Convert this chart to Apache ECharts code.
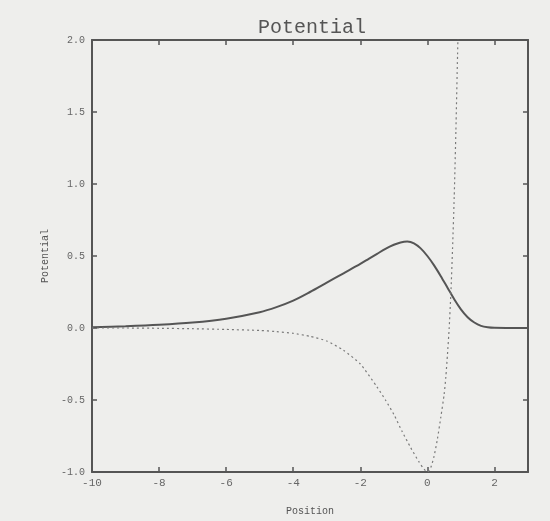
<!DOCTYPE html>
<html>
<head>
<meta charset="utf-8">
<script src="https://cdn.jsdelivr.net/npm/echarts@6/dist/echarts.min.js"></script>
<style>
html,body{margin:0;padding:0;background:#eeeeec;}
#chart{width:550px;height:521px;}
</style>
</head>
<body>
<div id="chart"></div>
<script>
// Data
var titleText = "Potential";
var xName = "Position";
var yName = "Potential";

var solidX = [-10, -9, -8, -7, -6, -5, -4.5, -4, -3.5, -3, -2.5, -2, -1.75, -1.5, -1.25, -1, -0.8, -0.6, -0.4, -0.2, 0, 0.2, 0.4, 0.6, 0.8, 1.0, 1.2, 1.4, 1.6, 1.8, 2.0, 2.5, 3];
var solidY = [0.005, 0.012, 0.022, 0.038, 0.065, 0.11, 0.145, 0.19, 0.25, 0.315, 0.38, 0.445, 0.48, 0.515, 0.55, 0.578, 0.594, 0.6, 0.588, 0.553, 0.5, 0.435, 0.36, 0.28, 0.2, 0.13, 0.075, 0.038, 0.015, 0.005, 0.001, 0, 0];

var dotX = [-10, -9, -8, -7, -6, -5, -4.5, -4, -3.5, -3, -2.5, -2, -1.5, -1.25, -1, -0.75, -0.5, -0.25, -0.1, 0, 0.1, 0.2, 0.3, 0.4, 0.5, 0.55, 0.6, 0.65, 0.7, 0.75, 0.8, 0.85, 0.9, 0.93];
var dotY = [0, 0, -0.002, -0.005, -0.01, -0.017, -0.025, -0.037, -0.058, -0.09, -0.155, -0.25, -0.41, -0.5, -0.6, -0.72, -0.83, -0.93, -0.98, -1.0, -0.97, -0.89, -0.77, -0.62, -0.46, -0.34, -0.18, 0.0, 0.24, 0.55, 0.91, 1.37, 1.9, 2.2];

var xTickMin = -10, xTickMax = 3, xTickStep = 2;
var yTickMin = -1.0, yTickMax = 2.0, yTickStep = 0.5;

function pairs(xs, ys) {
  var out = [];
  for (var i = 0; i < xs.length; i++) out.push([xs[i], ys[i]]);
  return out;
}

var axisCol = '#555';
var labelFont = 'Liberation Mono';

var chart = echarts.init(document.getElementById('chart'), null, {renderer: 'canvas'});
var tickStyle = {show: true, inside: true, length: 5, lineStyle: {color: axisCol, width: 1.5}};
var lineStyle = {show: true, onZero: false, lineStyle: {color: axisCol, width: 2}};

chart.setOption({
  backgroundColor: '#eeeeec',
  animation: false,
  title: {
    text: titleText,
    left: 307,
    top: 13,
    textAlign: 'center',
    textStyle: {fontFamily: labelFont, fontSize: 20, fontWeight: 'normal', color: '#555'}
  },
  grid: {left: 92, right: 22, top: 40, bottom: 46},
  xAxis: [{
    type: 'value', min: xTickMin, max: xTickMax, interval: xTickStep,
    name: xName, nameLocation: 'middle', nameGap: 34,
    nameTextStyle: {fontFamily: labelFont, fontSize: 10, color: '#555'},
    axisLine: lineStyle, axisTick: tickStyle, splitLine: {show: false},
    axisLabel: {fontFamily: labelFont, fontSize: 11, color: '#666', margin: 6, showMaxLabel: false}
  }, {
    type: 'value', position: 'top', min: xTickMin, max: xTickMax, interval: xTickStep,
    axisLine: lineStyle, axisTick: tickStyle, splitLine: {show: false}, axisLabel: {show: false}
  }],
  yAxis: [{
    type: 'value', min: yTickMin, max: yTickMax, interval: yTickStep,
    name: yName, nameLocation: 'middle', nameGap: 37,
    nameTextStyle: {fontFamily: labelFont, fontSize: 10, color: '#555'},
    axisLine: lineStyle, axisTick: tickStyle, splitLine: {show: false},
    axisLabel: {fontFamily: labelFont, fontSize: 10, color: '#666', margin: 7,
      formatter: function (v) { return v.toFixed(1); }}
  }, {
    type: 'value', position: 'right', min: yTickMin, max: yTickMax, interval: yTickStep,
    axisLine: lineStyle, axisTick: tickStyle, splitLine: {show: false}, axisLabel: {show: false}
  }],
  series: [{
    type: 'line', data: pairs(solidX, solidY), showSymbol: false, smooth: 0.3,
    lineStyle: {color: '#555', width: 2}, clip: true
  }, {
    type: 'line', data: pairs(dotX, dotY), showSymbol: false, smooth: 0.2,
    lineStyle: {color: '#7a7a7a', width: 1.2, type: [2, 3]}, clip: true
  }]
});
</script>
</body>
</html>
